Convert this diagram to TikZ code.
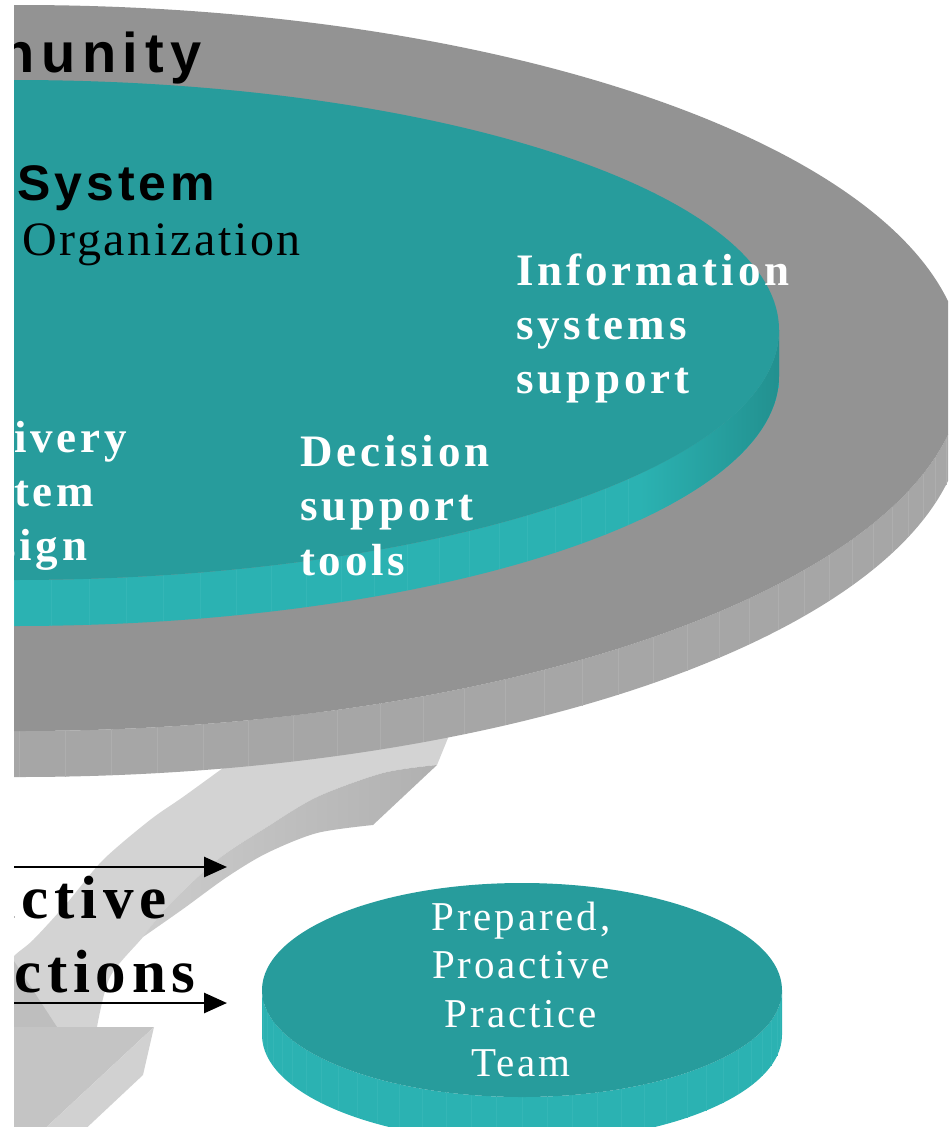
\documentclass[tikz,border=0pt]{standalone}
\usepackage{fontspec}
\setmainfont{Liberation Serif}
\newfontfamily\titlefont[LetterSpace=12]{Liberation Sans}
\newfontfamily\sysfont[LetterSpace=8]{Liberation Sans}
\newfontfamily\orgfont[LetterSpace=5.5]{Liberation Serif}
\newfontfamily\partfont[LetterSpace=8.5]{Liberation Serif}
\newfontfamily\interfont[LetterSpace=9.5]{Liberation Serif}
\newfontfamily\teamfont[LetterSpace=7]{Liberation Serif}
\usetikzlibrary{arrows.meta}
\usetikzlibrary{positioning}

\definecolor{greytop}{HTML}{939393}
\definecolor{greyside}{HTML}{A6A6A6}
\definecolor{greyfacet}{HTML}{AEAEAE}
\definecolor{tealtop}{HTML}{279C9C}
\definecolor{tealside}{HTML}{2BB2B2}
\definecolor{tealfacet}{HTML}{34B6B6}
\definecolor{tealdark}{HTML}{22908F}
\definecolor{arrowface}{HTML}{D3D3D3}
\definecolor{arrowshadeA}{HTML}{CCCCCC}
\definecolor{arrowshadeB}{HTML}{B0B0B0}
\definecolor{arrowback}{HTML}{BEBEBE}
\definecolor{headdark}{HTML}{C4C4C4}
\definecolor{headlight}{HTML}{D1D1D1}

\tikzset{
  txt/.style = {inner sep=0pt, anchor=base west},
  ringtitle/.style = {txt, font=\titlefont\bfseries\fontsize{56}{60}\selectfont},% anneau communaute
  systitle/.style = {txt, font=\sysfont\bfseries\fontsize{50}{56}\selectfont},
  orgtitle/.style = {txt, font=\orgfont\fontsize{48}{54}\selectfont},
  partname/.style = {txt, white, font=\partfont\bfseries\fontsize{45}{54}\selectfont},% elements du systeme
  intername/.style = {txt, font=\interfont\bfseries\fontsize{61}{66}\selectfont},
  teamname/.style = {inner sep=0pt, anchor=base, white,
    font=\teamfont\fontsize{41}{48}\selectfont},
  facet/.style = {line width=0.5pt},
  interarrow/.style = {-{Triangle[length=23pt,width=20pt]}, line width=2.8pt}
}

\begin{document}
\begin{tikzpicture}[x=1pt,y=-1pt]
\useasboundingbox (0,0) rectangle (948,1127);
\clip (14,0) rectangle (948,1127);

\coordinate (gc) at (19,368);   % grey ring
\coordinate (tc) at (14,330);   % teal system
\coordinate (pc) at (522,990);  % practice team

% big grey arrow, behind the ring
\fill[arrowface] (262,712) -- (228,760)
  -- plot[smooth,tension=0.5] coordinates {(223,768) (183,797) (150,820) (103,860) (67,903) (33,940) (13,957) (-10,985)}
  -- (-10,1030) -- (97,1030)
  -- plot[smooth,tension=0.5] coordinates {(97,1027) (110,977) (143,937) (167,907) (217,860) (267,827) (317,797) (383,773) (437,765)}
  -- (448,738) -- (456,712) -- cycle;
\shade[left color=arrowshadeA, right color=arrowshadeB]
  plot[smooth,tension=0.5] coordinates {(437,765) (383,773) (317,797) (267,827) (217,860) (167,907) (143,937)}
  -- plot[smooth,tension=0.5] coordinates {(143,937) (183,909) (227,877) (267,853) (317,833) (373,825)}
  -- cycle;
\fill[arrowback] (10,955) -- (57,1027) -- (-10,1027) -- (-10,980) -- cycle;
\fill[headdark] (-10,1027) -- (154,1027) -- (38,1135) -- (-10,1135) -- cycle;
\fill[headlight] (154,1027) -- (143,1075) -- (79,1135) -- (38,1135) -- cycle;

% grey ring (community)
\fill[greyside] (964,368) -- ++(0,46)
  arc[start angle=0, end angle=-180, x radius=945pt, y radius=363pt] -- ++(0,-46)
  arc[start angle=180, end angle=360, x radius=945pt, y radius=363pt] -- cycle;
\foreach \k [evaluate=\k as \ang using -90+2.8125*\k] in {0,...,31}
  \draw[facet, greyfacet] ([shift={(\ang:945pt and 363pt)}]gc) -- ++(0,46);
\fill[greytop] (gc) ellipse[x radius=945pt, y radius=363pt];

% teal disk (health system)
\fill[tealside] (779,330) -- ++(0,46)
  arc[start angle=0, end angle=-180, x radius=765pt, y radius=250pt] -- ++(0,-46)
  arc[start angle=180, end angle=360, x radius=765pt, y radius=250pt] -- cycle;
\foreach \k [evaluate=\k as \ang using -90+2.8125*\k] in {0,...,31}
  \draw[facet, tealfacet] ([shift={(\ang:765pt and 250pt)}]tc) -- ++(0,46);
\begin{scope}
  \clip (779,330) -- ++(0,46)
    arc[start angle=0, end angle=-180, x radius=765pt, y radius=250pt] -- ++(0,-46)
    arc[start angle=180, end angle=360, x radius=765pt, y radius=250pt] -- cycle;
  \shade[left color=tealside, right color=tealdark] (640,320) rectangle (780,560);
\end{scope}
\fill[tealtop] (tc) ellipse[x radius=765pt, y radius=250pt];

% practice team disk
\fill[tealside] (782,990) -- ++(0,45)
  arc[start angle=0, end angle=-180, x radius=260pt, y radius=107pt] -- ++(0,-45)
  arc[start angle=180, end angle=360, x radius=260pt, y radius=107pt] -- cycle;
\foreach \k [evaluate=\k as \ang using -180+5.625*\k] in {1,...,31}
  \draw[facet, tealfacet] ([shift={(\ang:260pt and 107pt)}]pc) -- ++(0,45);
\fill[tealtop] (pc) ellipse[x radius=260pt, y radius=107pt];

% titles
\node[ringtitle] (community) at (0,72) {nunity};
\node[systitle] (system) at (17,200) {System};
\node[orgtitle] (organization) at (22,255) {Organization};

% system elements
\foreach \word [count=\i] in {ivery, tem}
  \node[partname] (delivery\i) at (14,{452+54*(\i-1)}) {\word};
\node[partname] (delivery3) at (-2,560) {sign};
\foreach \word [count=\i] in {Decision, support, tools}
  \node[partname] (decision\i) at (300,{466+54.5*(\i-1)}) {\word};
\foreach \word [count=\i] in {Information, systems, support}
  \node[partname] (info\i) at (516,{285+54*(\i-1)}) {\word};

% productive interactions
\node[intername] (inter1) at (-18,918) {uctive};
\node[intername] (inter2) at (14,992) {ctions};
\coordinate (arrA start) at (0,867);
\coordinate (arrA end) at (227,867);
\coordinate (arrB start) at (0,1003);
\coordinate (arrB end) at (227,1003);
\draw[interarrow] (arrA start) -- (arrA end);
\draw[interarrow] (arrB start) -- (arrB end);

% practice team text
\foreach \word [count=\i] in {{Prepared,}, Proactive, Practice, Team}
  \node[teamname] (team\i) at (521,{930+48.7*(\i-1)}) {\word};
\end{tikzpicture}
\end{document}
